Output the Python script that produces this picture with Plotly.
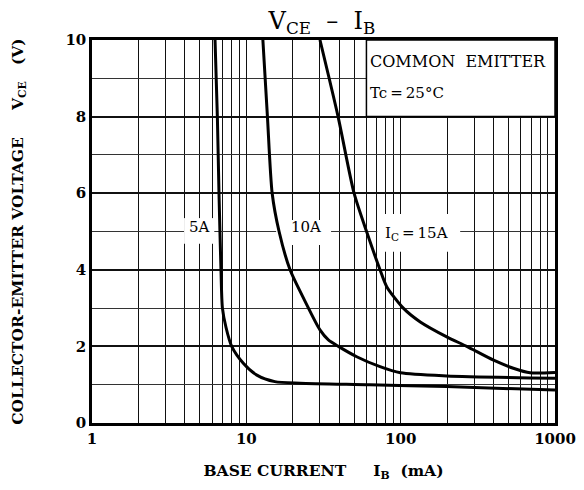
import math
import plotly.graph_objects as go

# ---- data ----
IB_5A = [6.27, 6.49, 6.65, 6.85, 7.0, 7.38, 8.04, 9.56, 11.7, 15.3, 22.3, 63, 199, 1000]
VCE_5A = [10, 8, 6, 4, 3, 2.5, 2.0, 1.56, 1.25, 1.08, 1.04, 1.0, 0.95, 0.86]

IB_10A = [12.8, 13.7, 14.7, 16.3, 19.2, 23.8, 30.0, 34.0, 39.5, 51.9, 73.5, 99.6, 199, 1000]
VCE_10A = [10, 8, 6, 5, 4, 3.21, 2.43, 2.17, 2.0, 1.73, 1.47, 1.31, 1.23, 1.17]

IB_15A = [30, 39.3, 49.9, 60.6, 73.5, 81.2, 104, 134, 199, 268, 400, 537, 690, 1000]
VCE_15A = [10, 8, 6, 4.96, 4.0, 3.56, 3.0, 2.64, 2.25, 2.0, 1.64, 1.43, 1.31, 1.32]

X_MAJOR = [1, 10, 100, 1000]
X_MINOR = [2, 3, 4, 5, 6, 7, 8, 9, 20, 30, 40, 50, 60, 70, 80, 90,
           200, 300, 400, 500, 600, 700, 800, 900]
Y_TICKS = [0, 2, 4, 6, 8, 10]

# curve labels: text, x (mA), y (V)
LABELS = [("5A", 4.94, 5.12), ("10A", 24.5, 5.11), ("I<sub>C</sub>\u2009=\u200915A", 127, 4.95)]
# label background boxes (x0, x1, y0, y1)
LABEL_BOXES = [(3.95, 6.2, 4.68, 5.35), (15.6, 35.4, 4.65, 5.3), (70.5, 243, 4.47, 5.46)]

FONT = "DejaVu Serif"
NB = "\u00a0"

fig = go.Figure()
for xs, ys in [(IB_5A, VCE_5A), (IB_10A, VCE_10A), (IB_15A, VCE_15A)]:
    fig.add_trace(go.Scatter(x=xs, y=ys, mode="lines",
                             line=dict(color="black", width=3, shape="spline", smoothing=0.7),
                             showlegend=False, hoverinfo="skip"))

shapes = []
for x0, x1, y0, y1 in LABEL_BOXES:
    shapes.append(dict(type="rect", xref="x", yref="y", x0=x0, x1=x1, y0=y0, y1=y1,
                       fillcolor="white", line=dict(width=0), layer="between"))
shapes.append(dict(type="rect", xref="x", yref="y", x0=60, x1=1000, y0=8, y1=10,
                   fillcolor="white", line=dict(color="black", width=1.5), layer="between"))

annotations = []
for t, x, y in LABELS:
    annotations.append(dict(text=t, x=math.log10(x), y=y, xref="x", yref="y",
                            showarrow=False, font=dict(family=FONT, size=15, color="black")))
annotations.append(dict(text="COMMON" + NB * 2 + "EMITTER", x=math.log10(61.5), y=9.43,
                        xref="x", yref="y", xanchor="left", showarrow=False,
                        font=dict(family=FONT, size=16, color="black")))
annotations.append(dict(text="Tc\u2009=\u200925°C", x=math.log10(61.5), y=8.62,
                        xref="x", yref="y", xanchor="left", showarrow=False,
                        font=dict(family=FONT, size=15, color="black")))

W, H = 568, 474
fig.update_layout(
    width=W, height=H,
    margin=dict(l=84, r=21, t=32, b=59, autoexpand=False),
    paper_bgcolor="white", plot_bgcolor="white",
    font=dict(family=FONT, size=14, color="black"),
    title=dict(text="V<sub>CE</sub>" + NB * 2 + "–" + NB * 2 + "I<sub>B</sub>",
               x=314 / W, xref="container", xanchor="center",
               y=1 - 13 / H, yref="container", yanchor="middle",
               font=dict(family=FONT, size=24, color="black")),
    shapes=shapes, annotations=annotations,
)
fig.update_xaxes(type="log", range=[0, 3], tickmode="array", tickvals=X_MAJOR,
                 ticktext=[str(v) for v in X_MAJOR], automargin=False,
                 showgrid=True, gridcolor="#111", gridwidth=1,
                 minor=dict(tickmode="array", tickvals=X_MINOR, showgrid=True,
                            gridcolor="#111", gridwidth=1, ticks=""),
                 showline=True, linecolor="black", linewidth=2.5, mirror=True,
                 ticks="", zeroline=False,
                 tickfont=dict(family=FONT, size=15, weight="bold"),
                 title=dict(text="BASE" + NB + "CURRENT" + NB * 5 + "I<sub>B</sub>" + NB * 2 + "(mA)",
                            font=dict(family=FONT, size=15.5, weight="bold"), standoff=25))
fig.update_yaxes(range=[0, 10], tickmode="array", tickvals=Y_TICKS, automargin=False,
                 showgrid=True, gridcolor="#111", gridwidth=2,
                 minor=dict(dtick=1, showgrid=True, gridcolor="#333", gridwidth=1, ticks=""),
                 showline=True, linecolor="black", linewidth=2.5, mirror=True,
                 ticks="", zeroline=False,
                 tickfont=dict(family=FONT, size=15, weight="bold"),
                 title=dict(text="COLLECTOR-EMITTER" + NB + "VOLTAGE" + NB * 5 + "V<sub>CE</sub>" + NB * 3 + "(V)",
                            font=dict(family=FONT, size=15.5, weight="bold"), standoff=44))

fig.write_html("out.html")
